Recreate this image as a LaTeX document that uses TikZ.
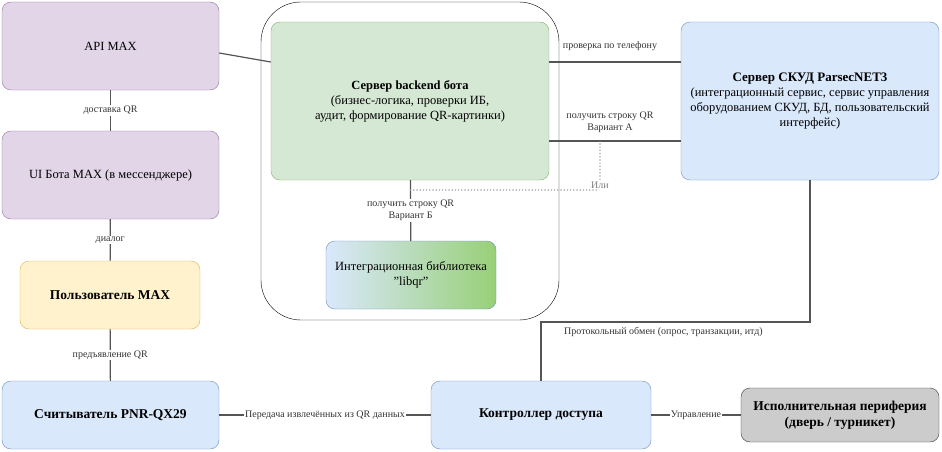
\documentclass[tikz,border=0pt]{standalone}
\usepackage{fontspec}
\setmainfont{Liberation Serif}
\usetikzlibrary{positioning,calc}
\definecolor{lilac}{HTML}{E1D5E7}\definecolor{lilacline}{HTML}{9673A6}
\definecolor{sand}{HTML}{FFF2CC}\definecolor{sandline}{HTML}{D6B656}
\definecolor{sky}{HTML}{DAE8FC}\definecolor{skyline}{HTML}{6C8EBF}
\definecolor{mint}{HTML}{D5E8D4}\definecolor{mintline}{HTML}{82B366}
\definecolor{leaf}{HTML}{97D077}
\definecolor{stone}{HTML}{CCCCCC}\definecolor{stoneline}{HTML}{36393D}
\definecolor{wire}{HTML}{555555}
\begin{document}
\begin{tikzpicture}[x=1pt,y=-1pt,
    box/.style = {draw, rounded corners=9pt, align=center, font=\fontsize{12.5}{15}\selectfont, inner sep=0pt},
    head/.style = {font=\fontsize{13.5}{16}\selectfont\bfseries},
    edge/.style = {draw=wire, line width=1.2pt},
    lbl/.style = {fill=white, font=\fontsize{10}{12}\selectfont, text=black!80, align=center, inner sep=1pt}]
  \useasboundingbox (0,0) rectangle (942,452);

  % frame round the bot
  \draw[rounded corners=40pt] (261,2) rectangle (559,320);

  % nodes
  \node[box, fill=lilac, draw=lilacline, minimum width=217pt, minimum height=88pt] (api) at (110.5,46) {API MAX};
  \node[box, fill=lilac, draw=lilacline, minimum width=217pt, minimum height=88pt] (ui) at (110.5,175) {UI Бота MAX (в мессенджере)};
  \node[box, head, fill=sand, draw=sandline, minimum width=180pt, minimum height=68pt] (user) at (110,295) {Пользователь MAX};
  \node[box, head, fill=sky, draw=skyline, minimum width=217pt, minimum height=68pt] (reader) at (110.5,415) {Считыватель PNR-QX29};
  \node[box, fill=mint, draw=mintline, minimum width=278pt, minimum height=158pt] (backend) at (410,101)
    {{\bfseries Сервер backend бота}\\(бизнес-логика, проверки ИБ,\\аудит, формирование QR-картинки)};
  \node[box, left color=sky, right color=leaf, draw=skyline, minimum width=170pt, minimum height=68pt] (lib) at (411,275) {Интеграционная библиотека\\\char34 libqr\char34};
  \node[box, fill=sky, draw=skyline, minimum width=258pt, minimum height=158pt] (skud) at (810,101)
    {{\bfseries\fontsize{13}{15}\selectfont Сервер СКУД ParsecNET3}\\(интеграционный сервис, сервис управления\\оборудованием СКУД, БД, пользовательский\\интерфейс)};
  \node[box, head, fill=sky, draw=skyline, minimum width=220pt, minimum height=68pt] (ctrl) at (541,415) {Контроллер доступа};
  \node[box, head, fill=stone, draw=stoneline, minimum width=198pt, minimum height=54pt] (exec) at (840,415) {Исполнительная периферия\\(дверь / турникет)};

  \coordinate (orA) at (600,141);
  \coordinate (orB) at (410,190);
  \coordinate (bend1) at (810,322);
  \coordinate (bend2) at (541,322);

  % edges
  \draw[edge] (api.east |- 0,53) -- (backend.west |- 0,62);
  \draw[edge] (api) -- node[lbl] {доставка QR} (ui);
  \draw[edge] (ui) -- node[lbl] {диалог} (user);
  \draw[edge] (user) -- node[lbl] {предъявление QR} (reader);
  \draw[edge] (backend.east |- 0,62) -- (skud.west |- 0,62);
  \node[lbl, fill=none] (lblphone) at (610,46) {проверка по телефону};
  \draw[edge] (backend.east |- 0,141) -- (skud.west |- 0,141);
  \node[lbl, fill=none] (lblA) at (610,122) {получить строку QR\\Вариант А};
  \draw[edge] (backend) -- node[lbl, pos=0.5] {получить строку QR\\Вариант Б} (lib);
  \draw[draw=black!40, line width=1.2pt, dotted, rounded corners=4pt] (orB) -- (orA |- orB) -- node[pos=0.1, lbl, text=black!50] {Или} (orA);
  \draw[edge] (skud.south |- 0,180) -- (bend1) -- (bend2) -- (ctrl);
  \node[lbl, fill=none, anchor=west] (lblproto) at (563,332) {Протокольный обмен (опрос, транзакции, итд)};
  \draw[edge] (reader) -- node[lbl] {Передача извлечённых из QR данных} (ctrl);
  \draw[edge] (ctrl) -- node[lbl] {Управление} (exec);
\end{tikzpicture}
\end{document}
